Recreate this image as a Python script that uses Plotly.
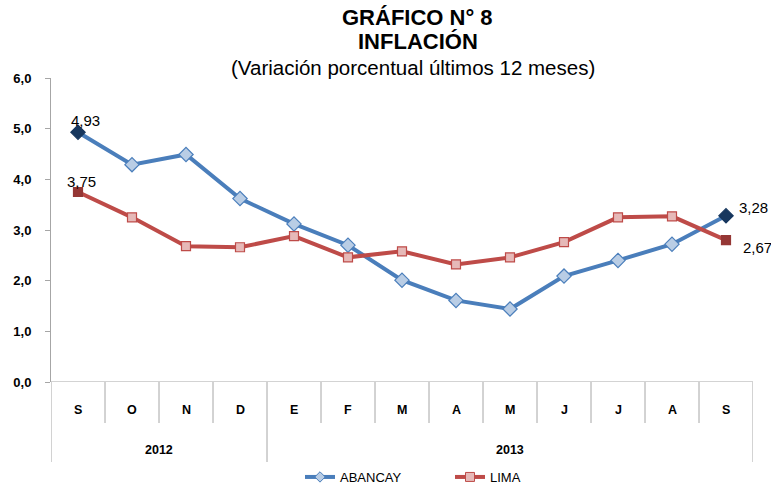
import plotly.graph_objects as go

months = ["S", "O", "N", "D", "E", "F", "M", "A", "M", "J", "J", "A", "S"]
years = ["2012", "2013"]
year_counts = [4, 9]
abancay = [4.93, 4.29, 4.49, 3.62, 3.12, 2.70, 2.01, 1.61, 1.44, 2.09, 2.40, 2.72, 3.28]
lima = [3.75, 3.25, 2.68, 2.66, 2.88, 2.46, 2.58, 2.32, 2.46, 2.76, 3.25, 3.27, 2.80]
abancay_labels = {0: "4,93", 12: "3,28"}
lima_labels = {0: "3,75", 12: "2,67"}
yticks = [0, 1, 2, 3, 4, 5, 6]

x = list(range(len(months)))
n = len(months)

blue, blue_fill, blue_dark = "#4a7ebb", "#b9cde5", "#17375e"
red, red_fill, red_dark = "#be4b48", "#e6b9b8", "#953735"

def colors(base, end):
    return [end if i in (0, n - 1) else base for i in range(n)]

fig = go.Figure()
fig.add_trace(go.Scatter(
    x=x, y=abancay, name="ABANCAY", mode="lines+markers", showlegend=False,
    line=dict(color=blue, width=4),
    marker=dict(symbol="diamond", size=11, color=colors(blue_fill, blue_dark),
                line=dict(color=colors(blue, blue_dark), width=1.2)),
))
fig.add_trace(go.Scatter(
    x=x, y=lima, name="LIMA", mode="lines+markers", showlegend=False,
    line=dict(color=red, width=4),
    marker=dict(symbol="square", size=9, color=colors(red_fill, red_dark),
                line=dict(color=colors(red, red_dark), width=1.2)),
))
# legend entries
fig.add_trace(go.Scatter(
    x=[None], y=[None], name="ABANCAY", mode="lines+markers",
    line=dict(color=blue, width=4),
    marker=dict(symbol="diamond", size=8, color=blue_fill, line=dict(color=blue, width=1)),
))
fig.add_trace(go.Scatter(
    x=[None], y=[None], name="LIMA", mode="lines+markers",
    line=dict(color=red, width=4),
    marker=dict(symbol="square", size=9, color=red_fill, line=dict(color=red, width=1)),
))

font = "Liberation Sans, Arial, sans-serif"
ann = []
label_specs = [
    (abancay, abancay_labels, {0: (-9, 12), 12: (11, 8)}),
    (lima, lima_labels, {0: (-13, 11), 12: (15, -7)}),
]
for series, labels, offs in label_specs:
    for i, t in labels.items():
        dx, dy = offs[i]
        ann.append(dict(x=x[i], y=series[i], text=t, showarrow=False, xanchor="left", yanchor="middle",
                        xshift=dx, yshift=dy, font=dict(family=font, size=15, color="#000")))

L, R, T, B = 51, 18, 78, 106
W, H = 771, 488
pw, ph = W - L - R, H - T - B

def py(ypx):
    return (H - B - ypx) / ph

line_c = "#a6a6a6"
shapes = []
for i, m in enumerate(months):
    ann.append(dict(x=x[i], xref="x", y=py(410), yref="paper", yanchor="middle",
                    text="<b>%s</b>" % m, showarrow=False,
                    font=dict(family=font, size=12.5, color="#000")))
start = 0
for yr, cnt in zip(years, year_counts):
    ann.append(dict(x=start + (cnt - 1) / 2, xref="x", y=py(450), yref="paper", yanchor="middle",
                    text="<b>%s</b>" % yr, showarrow=False,
                    font=dict(family=font, size=12.5, color="#000")))
    shapes.append(dict(type="line", xref="x", yref="paper", x0=start - 0.5, x1=start - 0.5,
                       y0=0, y1=py(462), line=dict(color=line_c, width=1)))
    start += cnt
shapes.append(dict(type="line", xref="x", yref="paper", x0=start - 0.5, x1=start - 0.5, y0=0, y1=py(462),
                   line=dict(color=line_c, width=1)))
boundaries = set()
s = 0
for c in year_counts:
    s += c
    boundaries.add(s)
for i in range(1, n):
    if i not in boundaries:
        shapes.append(dict(type="line", xref="x", yref="paper", x0=i - 0.5, x1=i - 0.5, y0=0, y1=py(423),
                           line=dict(color=line_c, width=1)))
shapes.append(dict(type="line", xref="paper", yref="y", x0=0, x1=1, y0=0, y1=0, line=dict(color=line_c, width=1)))

title_lines = [("<b>GRÁFICO N° 8</b>", 22, 17, 418), ("<b>INFLACIÓN</b>", 22, 42, 418),
               ("(Variación porcentual últimos 12 meses)", 20.5, 67, 413)]
for txt, sz, ypx, xpx in title_lines:
    ann.append(dict(x=(xpx - L) / pw, xref="paper", y=py(ypx), yref="paper", yanchor="middle",
                    text=txt, showarrow=False, font=dict(family=font, size=sz, color="#000")))

fig.update_layout(
    width=W, height=H,
    margin=dict(l=L, r=R, t=T, b=B, autoexpand=False),
    paper_bgcolor="white", plot_bgcolor="white",
    separators=",.",
    font=dict(family=font, color="#000"),
    showlegend=True,
    legend=dict(orientation="h", x=(300 - L) / pw, xanchor="left", y=py(477), yanchor="middle",
                font=dict(family=font, size=13, color="#000"), tracegroupgap=0,
                entrywidth=105, entrywidthmode="pixels"),
    annotations=ann,
    shapes=shapes,
    xaxis=dict(range=[-0.5, n - 0.5], showticklabels=False, showgrid=False, zeroline=False,
               showline=False, ticks=""),
    yaxis=dict(range=[0, 6], tickvals=yticks, tickformat=".1f", showgrid=False, zeroline=False,
               showline=True, linecolor=line_c, linewidth=1, ticks="outside", ticklen=5, tickcolor=line_c,
               tickfont=dict(family=font, size=13, color="#000", weight="bold"), ticklabelstandoff=11),
)

fig.write_html("out.html", config={"displayModeBar": False},
               post_script="document.body.style.margin='0';")
